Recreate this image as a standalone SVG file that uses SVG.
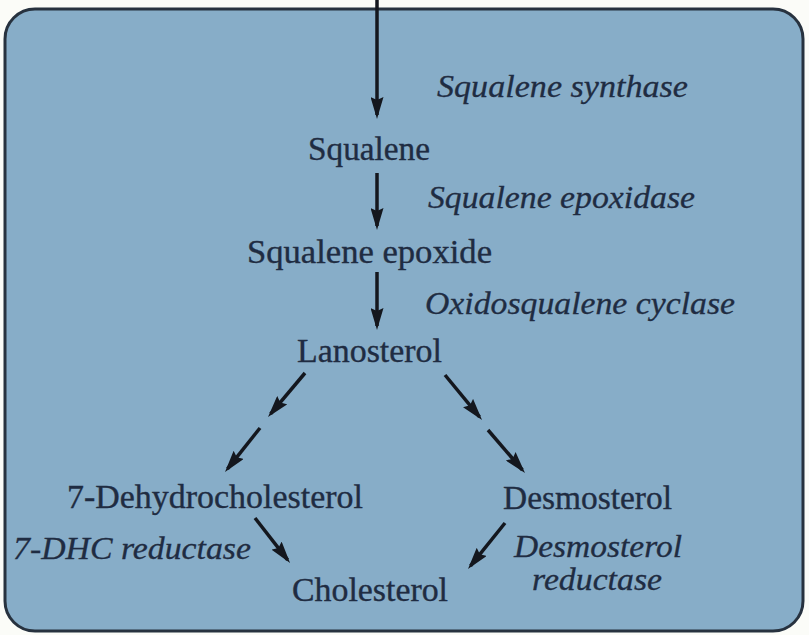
<svg xmlns="http://www.w3.org/2000/svg" width="809" height="635" viewBox="0 0 809 635">
<defs>
<marker id="ah" markerUnits="userSpaceOnUse" markerWidth="22" markerHeight="13" refX="18" refY="6.5" orient="auto">
<path d="M0,0 L22,6.5 L0,13 L3,6.5 z" fill="#14171e"/>
</marker>
<style>
.n{font-family:"Liberation Serif","Times New Roman",serif;font-size:33px;fill:#1f2c42;stroke:#1f2c42;stroke-width:0.35}
.e{font-family:"Liberation Serif","Times New Roman",serif;font-size:32px;font-style:italic;fill:#1f2c42;stroke:#1f2c42;stroke-width:0.3}
.c{stroke:#14171e;stroke-width:3.5;fill:none;marker-end:url(#ah)}
</style>
</defs>
<rect x="0" y="0" width="809" height="635" fill="#fbfcf8"/>
<rect id="panel" x="5" y="9" width="798" height="622" rx="30" ry="30" fill="#87adc8" stroke="#27323f" stroke-width="3"/>
<g id="connectors">
<line class="c" x1="377" y1="0" x2="377" y2="115"/>
<line class="c" x1="377" y1="173" x2="377" y2="226"/>
<line class="c" x1="377" y1="272" x2="377" y2="326"/>
<line class="c" x1="305" y1="373" x2="270.6" y2="413.9"/>
<line class="c" x1="260" y1="428" x2="227.5" y2="468.9"/>
<line class="c" x1="445" y1="375" x2="479.5" y2="416.9"/>
<line class="c" x1="488" y1="430" x2="522.4" y2="470"/>
<line class="c" x1="255" y1="518" x2="287.6" y2="559.8"/>
<line class="c" x1="505" y1="523" x2="470.5" y2="565.9"/>
</g>
<g id="squalene"><text class="n" x="308" y="160" textLength="122" lengthAdjust="spacingAndGlyphs">Squalene</text></g>
<g id="squalene-epoxide"><text class="n" x="247" y="263" textLength="245" lengthAdjust="spacingAndGlyphs">Squalene epoxide</text></g>
<g id="lanosterol"><text class="n" x="297" y="362" textLength="145" lengthAdjust="spacingAndGlyphs">Lanosterol</text></g>
<g id="dhc"><text class="n" x="67" y="508" textLength="296" lengthAdjust="spacingAndGlyphs">7-Dehydrocholesterol</text></g>
<g id="desmosterol"><text class="n" x="503" y="509" textLength="169" lengthAdjust="spacingAndGlyphs">Desmosterol</text></g>
<g id="cholesterol"><text class="n" x="292" y="601" textLength="156" lengthAdjust="spacingAndGlyphs">Cholesterol</text></g>
<g id="enzymes">
<text class="e" x="437" y="97" textLength="251" lengthAdjust="spacingAndGlyphs">Squalene synthase</text>
<text class="e" x="428" y="208" textLength="267" lengthAdjust="spacingAndGlyphs">Squalene epoxidase</text>
<text class="e" x="425" y="314" textLength="310" lengthAdjust="spacingAndGlyphs">Oxidosqualene cyclase</text>
<text class="e" x="13" y="559" textLength="238" lengthAdjust="spacingAndGlyphs">7-DHC reductase</text>
<text class="e" x="514" y="557" textLength="168" lengthAdjust="spacingAndGlyphs">Desmosterol</text>
<text class="e" x="532" y="590" textLength="130" lengthAdjust="spacingAndGlyphs">reductase</text>
</g>
</svg>
